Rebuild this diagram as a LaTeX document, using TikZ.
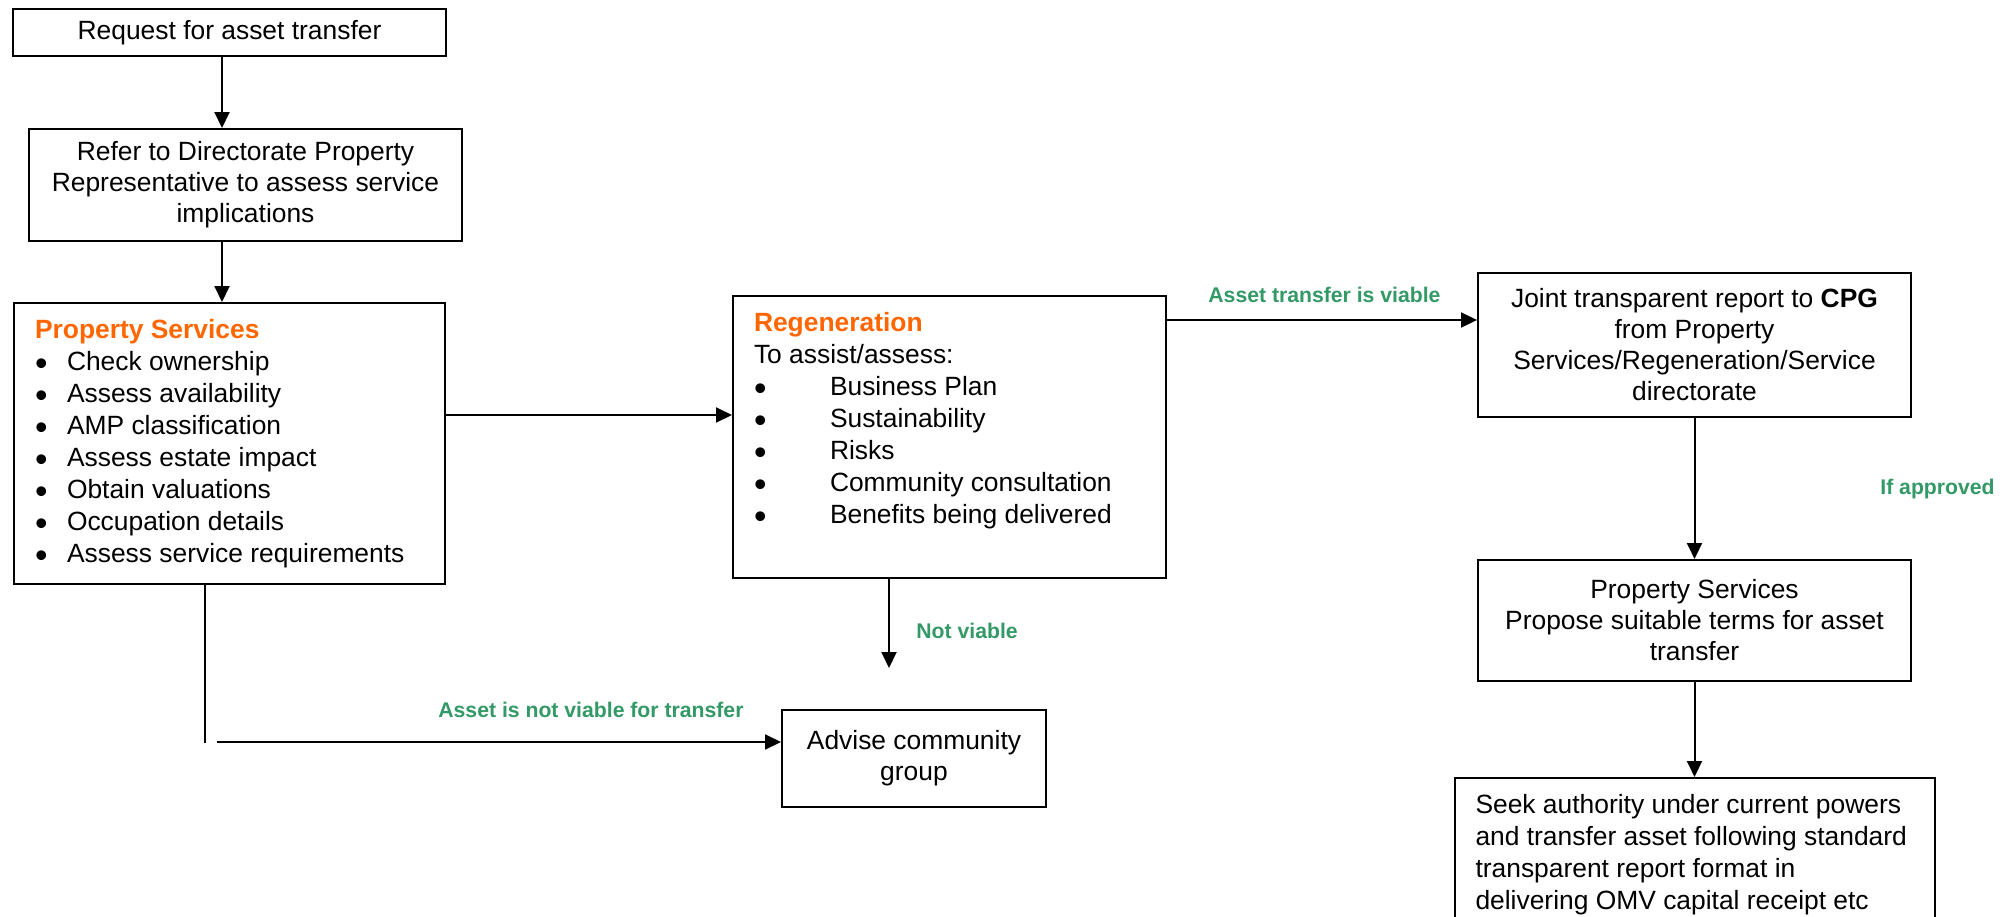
\documentclass[tikz,border=0pt]{standalone}
\usepackage{fontspec}
\setmainfont{Liberation Sans}
\usetikzlibrary{positioning, arrows.meta}
\definecolor{Flow_Orange}{HTML}{FF6600}
\definecolor{Flow_Green}{HTML}{339966}
\newcommand{\topbox}[3]{\parbox[c][#2][t]{#1}{#3}}
\newcommand{\bitem}[2]{\makebox[#1][l]{\raisebox{-2.7pt}{\scalebox{1.35}{\textbullet}}}#2}

\begin{document}
\begin{tikzpicture}[
  x=0.5pt, y=-0.5pt,
  every node/.style={font=\fontsize{13.2}{15.5}\selectfont},
  box/.style={draw, line width=1pt, align=center, inner sep=0pt,
    minimum width=216.5pt},
  listbox/.style={draw, line width=1pt, inner xsep=10.5pt, inner ysep=8pt,
    font=\fontsize{13.2}{16}\selectfont},
  lbl/.style={text=Flow_Green, inner sep=0pt, anchor=base west,
    font=\fontsize{10.6}{12}\selectfont\bfseries},
  arr/.style={-{Triangle[length=8pt, width=7.5pt]}, line width=1pt},
  plain/.style={line width=1pt}
]
  \clip (0,0) rectangle (2008,916);

  % Left column
  \node[box, anchor=north west, minimum height=23.5pt] (req) at (12,8)
    {Request for asset transfer};
  \node[box, anchor=north west, minimum height=56pt] (refer) at (28,128)
    {Refer to Directorate Property\\Representative to assess service\\implications};
  \node[listbox, anchor=north west] (ps) at (13,302) {\topbox{194.5pt}{124.5pt}{%
    {\bfseries\color{Flow_Orange}Property Services}\\
    \bitem{16pt}{Check ownership}\\
    \bitem{16pt}{Assess availability}\\
    \bitem{16pt}{AMP classification}\\
    \bitem{16pt}{Assess estate impact}\\
    \bitem{16pt}{Obtain valuations}\\
    \bitem{16pt}{Occupation details}\\
    \bitem{16pt}{Assess service requirements}}};

  % Middle column
  \node[listbox, anchor=north west] (regen) at (732,295) {\topbox{195.5pt}{125pt}{%
    {\bfseries\color{Flow_Orange}Regeneration}\\
    To assist/assess:\\
    \bitem{38pt}{Business Plan}\\
    \bitem{38pt}{Sustainability}\\
    \bitem{38pt}{Risks}\\
    \bitem{38pt}{Community consultation}\\
    \bitem{38pt}{Benefits being delivered}}};
  \node[box, anchor=north west, minimum width=132pt, minimum height=48.5pt]
    (advise) at (781,709) {Advise community\\group};

  % Right column
  \node[box, anchor=north west, minimum height=72pt] (cpg) at (1477,272)
    {Joint transparent report to \textbf{CPG}\\from Property\\Services/Regeneration/Service\\directorate};
  \node[box, below=70.5pt of cpg, minimum height=60.5pt] (ps2)
    {Property Services\\Propose suitable terms for asset\\transfer};
  \node[listbox, below=47.5pt of ps2] (seek) {\topbox{219pt}{66pt}{%
    Seek authority under current powers\\
    and transfer asset following standard\\
    transparent report format in\\
    delivering OMV capital receipt etc}};

  % Connector points
  \coordinate (ax) at (222,0);
  \coordinate (yPR) at (0,415);
  \coordinate (yRC) at (0,320);
  \coordinate (nvEnd) at (889,668);
  \coordinate (psTurn) at (205,743);
  \coordinate (nvStart) at (217,742);

  % Arrows
  \draw[arr] (req.south -| ax) -- (refer.north -| ax);
  \draw[arr] (refer.south -| ax) -- (ps.north -| ax);
  \draw[arr] (ps.east |- yPR) -- (regen.west |- yPR);
  \draw[arr] (regen.east |- yRC) -- (cpg.west |- yRC);
  \draw[arr] (regen.south -| nvEnd) -- (nvEnd);
  \draw[plain] (ps.south -| psTurn) -- (psTurn);
  \draw[arr] (nvStart) -- (advise.west |- nvStart);
  \draw[arr] (cpg.south) -- (ps2.north);
  \draw[arr] (ps2.south) -- (seek.north);

  % Labels
  \node[lbl] (lViable) at (1208,302) {Asset transfer is viable};
  \node[lbl] (lApproved) at (1880,494) {If approved};
  \node[lbl] (lNot) at (916,638) {Not viable};
  \node[lbl] (lNotTransfer) at (438,717) {Asset is not viable for transfer};
\end{tikzpicture}
\end{document}
